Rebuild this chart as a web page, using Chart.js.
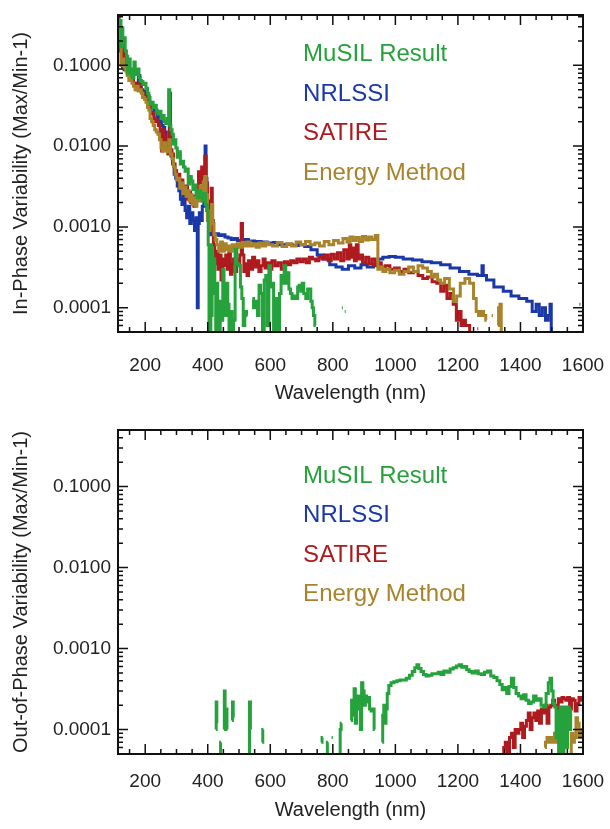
<!DOCTYPE html>
<html>
<head>
<meta charset="utf-8">
<title>Solar spectral variability</title>
<script src="https://cdn.jsdelivr.net/npm/chart.js@4.4.1/dist/chart.umd.min.js"></script>
<style>
  html, body { margin: 0; padding: 0; background: #fff; }
  #wrap { position: relative; width: 610px; height: 829px; }
  canvas { position: absolute; left: 0; }
</style>
</head>
<body>
<div id="wrap">
  <canvas id="inPhase" width="610" height="415" style="top:0"></canvas>
  <canvas id="outPhase" width="610" height="414" style="top:415px"></canvas>
</div>
<script>
// series names / colours / tick labels
const seriesNames = ['MuSIL Result', 'NRLSSI', 'SATIRE', 'Energy Method'];
const seriesColors = ['#25a23b', '#1a38a8', '#ae1a1e', '#a8832b'];
const xTickLabels = [200, 400, 600, 800, 1000, 1200, 1400, 1600];
const yTickLabels = [0.0001, 0.001, 0.01, 0.1];

// [wavelength nm, variability]; null = gap
const musilIn = [[113,0.40],[117,0.30],[121,0.36],[124,0.17],[127,0.29],[130,0.18],[134,0.22],[138,0.15],[142,0.13],[146,0.08],[150,0.12],[154,0.09],[158,0.075],[162,0.07],[166,0.11],[170,0.085],[174,0.077],[178,0.09],[182,0.07],[186,0.065],[190,0.063],[195,0.058],[200,0.06],[205,0.052],[210,0.045],[213,0.04],[218,0.033],[223,0.035],[228,0.03],[233,0.032],[238,0.027],[243,0.025],[248,0.027],[253,0.022],[258,0.024],[263,0.02],[268,0.019],[273,0.022],[277,0.05],[280,0.018],[284,0.016],[288,0.014],[292,0.0106],[296,0.012],[300,0.0095],[305,0.0073],[310,0.0085],[315,0.006],[320,0.0065],[325,0.0055],[330,0.0049],[335,0.0052],[340,0.0034],[345,0.0042],[350,0.0037],[355,0.0029],[360,0.0033],[365,0.0026],[370,0.0023],[375,0.0028],[380,0.0025],[385,0.0021],[390,0.0026],[395,0.0019],[400,0.0016],[403,0.0006],[405,0.00003],[407,0.0003],[409,0.00003],[411,0.0006],[413,0.00008],[415,0.00045],[418,0.00025],[421,0.0004],[424,0.00015],[427,0.00003],[430,0.0002],[434,0.00009],[438,0.00004],[442,0.00012],[446,0.00007],[450,0.0003],[454,0.00014],[458,0.00008],[462,0.0002],[466,0.00011],[470,0.00004],[475,0.00009],[480,0.00003],[485,0.00007],[490,0.00053],[496,0.00035],[502,0.00033],[507,0.00018],[511,0.00013],[516,0.00006],[521,0.00009],[527,0.00008],[532,null],[543,0.00013],[550,0.0001],[556,0.00012],[562,0.00008],[566,0.00019],[572,0.00015],[578,0.00003],[583,0.00022],[588,0.00025],[593,0.00006],[598,0.00033],[603,0.00018],[608,0.0002],[613,0.00004],[618,0.00012],[622,0.00013],[627,0.00003],[632,0.00015],[637,0.00025],[642,0.0002],[647,0.00033],[652,0.0002],[657,0.00027],[662,0.00017],[667,0.00015],[672,0.00013],[678,0.00014],[685,0.00013],[690,0.00018],[695,0.00019],[700,0.00016],[704,0.0002],[710,0.00015],[717,0.00013],[722,0.00017],[727,0.00017],[732,0.00012],[736,0.0001],[740,0.00008],[745,0.00006],[748,null],[829,0.0001],[832,0.0001],[834,null],[838,0.00009],[841,0.00009],[843,null],[1588,0.00011],[1592,0.00011]];

const nrlssiIn = [[113,0.38],[118,0.25],[122,0.15],[125,0.1],[130,0.095],[135,0.088],[140,0.09],[145,0.08],[150,0.075],[155,0.065],[160,0.07],[165,0.06],[170,0.058],[175,0.06],[181,0.075],[185,0.06],[190,0.05],[195,0.048],[200,0.045],[205,0.04],[210,0.042],[215,0.035],[220,0.033],[225,0.03],[230,0.027],[235,0.028],[240,0.024],[245,0.022],[250,0.02],[255,0.018],[260,0.017],[265,0.015],[270,0.012],[275,0.0095],[280,0.0085],[285,0.0075],[290,0.006],[295,0.0045],[300,0.004],[305,0.0032],[310,0.0028],[315,0.0022],[320,0.0019],[325,0.0025],[330,0.0016],[335,0.0013],[340,0.0018],[345,0.0011],[350,0.0015],[355,0.0012],[360,0.0009],[365,0.0013],[368,0.0001],[371,0.0011],[375,0.0015],[380,0.0012],[385,0.0018],[390,0.0022],[393,0.01],[396,0.004],[399,0.0016],[402,0.0021],[405,0.001],[410,0.0008],[415,0.0009],[420,0.0008],[430,0.00082],[440,0.00078],[450,0.0008],[460,0.00075],[470,0.00073],[480,0.0007],[490,0.00072],[500,0.00068],[520,0.0007],[540,0.00067],[560,0.00066],[580,0.00065],[600,0.00063],[620,0.00064],[640,0.0006],[660,0.00061],[680,0.00059],[700,0.0006],[720,0.00057],[740,0.00052],[760,0.00045],[780,0.0004],[800,0.00034],[820,0.00032],[840,0.0003],[860,0.00033],[880,0.00031],[900,0.00034],[920,0.00032],[940,0.00034],[950,0.0004],[970,0.00042],[990,0.00043],[1010,0.00042],[1040,0.0004],[1070,0.00039],[1100,0.00037],[1130,0.00036],[1160,0.00034],[1190,0.00031],[1220,0.00028],[1250,0.00026],[1275,0.00025],[1279,0.00033],[1283,0.00025],[1300,0.00022],[1330,0.00018],[1360,0.00016],[1380,0.00014],[1410,0.00013],[1430,0.00012],[1445,0.00009],[1455,0.00011],[1465,0.00008],[1475,0.0001],[1485,0.00007],[1492,0.00008],[1497,0.00011],[1500,0.00002]];

const satireIn = [[113,0.38],[118,0.28],[122,0.2],[126,0.12],[130,0.21],[134,0.13],[138,0.1],[142,0.09],[146,0.085],[150,0.08],[155,0.07],[160,0.065],[165,0.06],[170,0.055],[175,0.05],[180,0.06],[185,0.052],[190,0.047],[195,0.04],[200,0.042],[205,0.038],[210,0.032],[215,0.03],[220,0.026],[225,0.025],[230,0.022],[235,0.02],[240,0.021],[245,0.018],[250,0.015],[255,0.0087],[258,0.016],[262,0.014],[266,0.012],[270,0.01],[275,0.008],[279,0.045],[283,0.009],[288,0.008],[293,0.006],[298,0.005],[303,0.004],[308,0.0045],[313,0.0033],[318,0.0038],[323,0.003],[328,0.0026],[333,0.0032],[338,0.0022],[343,0.0027],[348,0.002],[353,0.0024],[358,0.0018],[363,0.0022],[368,0.003],[373,0.0048],[378,0.0035],[383,0.0055],[388,0.0042],[393,0.0075],[397,0.0035],[401,0.0013],[405,0.0009],[409,0.0014],[413,0.003],[416,0.0012],[420,0.0006],[425,0.00035],[430,0.0005],[435,0.0003],[440,0.00045],[445,0.00022],[450,0.0004],[455,0.00033],[460,0.00045],[465,0.0003],[470,0.00048],[475,0.00026],[480,0.00035],[485,0.0004],[490,0.00028],[495,0.0004],[500,0.00035],[505,0.00045],[509,0.0011],[513,0.00045],[518,0.00028],[523,0.00035],[528,0.00025],[533,0.00038],[540,0.0003],[547,0.00042],[553,0.00032],[560,0.00038],[567,0.00028],[574,0.00033],[580,0.0004],[587,0.00031],[594,0.00036],[600,0.0003],[610,0.00038],[620,0.00033],[630,0.00036],[640,0.0003],[650,0.00037],[660,0.00034],[670,0.00038],[680,0.00036],[690,0.0004],[700,0.00037],[710,0.0004],[720,0.00036],[730,0.00042],[740,0.0004],[750,0.00038],[760,0.00043],[770,0.0004],[780,0.00045],[790,0.00038],[800,0.00046],[810,0.0004],[820,0.00048],[830,0.00038],[840,0.00052],[850,0.0004],[855,0.0006],[860,0.00042],[866,0.00055],[872,0.00038],[878,0.0006],[884,0.0004],[890,0.00045],[900,0.00036],[910,0.00042],[920,0.00035],[930,0.0004],[940,0.00033],[950,0.00036],[960,0.00032],[975,0.00033],[990,0.0003],[1005,0.00031],[1020,0.00028],[1035,0.0003],[1050,0.00027],[1065,0.00028],[1080,0.00025],[1095,0.00023],[1110,0.00024],[1125,0.00021],[1140,0.0002],[1150,0.00016],[1160,0.00019],[1170,0.00013],[1180,0.00015],[1190,0.00011],[1200,0.00007],[1207,0.00009],[1213,0.00006],[1220,0.00007],[1228,0.00006],[1235,0.00006],[1240,0.00002],[1244,null],[1262,0.000055],[1265,0.000055]];

const energyIn = [[113,0.42],[117,0.3],[121,0.2],[125,0.1],[130,0.12],[135,0.095],[140,0.085],[145,0.075],[150,0.065],[155,0.07],[160,0.06],[165,0.055],[170,0.05],[175,0.055],[180,0.048],[185,0.05],[190,0.045],[195,0.04],[200,0.038],[205,0.035],[210,0.03],[213,0.028],[218,0.022],[223,0.02],[228,0.018],[233,0.016],[238,0.015],[243,0.014],[248,0.012],[253,0.0095],[258,0.0087],[263,0.011],[268,0.009],[273,0.0085],[278,0.012],[283,0.008],[288,0.007],[293,0.0055],[298,0.0045],[303,0.0038],[308,0.004],[313,0.003],[318,0.0035],[323,0.0026],[328,0.0031],[333,0.0024],[338,0.0028],[343,0.0021],[348,0.0025],[353,0.0019],[358,0.0023],[363,0.0018],[368,0.0026],[373,0.0021],[378,0.0032],[383,0.0025],[388,0.0036],[393,0.0042],[397,0.0025],[401,0.0012],[405,0.0009],[410,0.0016],[414,0.0019],[418,0.0011],[422,0.0008],[426,0.0007],[432,0.0006],[438,0.0005],[444,0.00065],[450,0.0005],[456,0.00062],[462,0.00052],[468,0.00058],[475,0.0005],[482,0.0006],[490,0.00055],[498,0.00062],[506,0.00056],[514,0.00064],[522,0.00058],[530,0.00065],[540,0.00058],[550,0.00062],[560,0.00056],[570,0.00063],[580,0.00058],[590,0.00064],[600,0.0006],[615,0.00058],[630,0.00064],[645,0.00057],[660,0.00062],[675,0.00058],[690,0.00065],[705,0.0006],[720,0.00066],[735,0.0006],[750,0.00063],[765,0.00058],[780,0.00066],[795,0.0006],[810,0.00068],[825,0.00063],[840,0.00072],[850,0.00065],[860,0.00075],[870,0.00068],[880,0.00074],[890,0.00066],[900,0.00076],[910,0.00069],[920,0.00075],[930,0.0007],[942,0.00078],[946,0.0003],[955,0.00032],[965,0.00028],[975,0.0003],[990,0.00027],[1005,0.00029],[1020,0.00026],[1035,0.00028],[1050,0.00032],[1065,0.00028],[1080,0.00033],[1095,0.00031],[1110,0.00028],[1120,0.00024],[1130,0.00026],[1140,0.00022],[1150,0.0002],[1165,0.00023],[1180,0.00017],[1192,0.00012],[1200,0.00014],[1215,0.0002],[1230,0.00023],[1245,0.0002],[1255,0.00013],[1262,0.00009],[1270,0.00008],[1278,0.00009],[1286,0.00008],[1292,0.00007],[1296,null],[1308,0.00008],[1312,0.00008],[1316,null],[1328,0.00006],[1332,0.0001],[1337,0.00011],[1340,0.00002]];

const musilOut = [[426,0.0001],[428,0.00022],[430,0.00012],[432,null],[440,0.00003],[442,0.00007],[444,null],[452,0.0001],[454,0.0003],[457,0.00011],[460,0.00018],[463,0.0001],[465,null],[478,0.00013],[480,0.00022],[483,0.00014],[485,null],[532,0.00003],[535,0.00022],[538,0.0001],[540,null],[574,0.00007],[578,0.0001],[580,null],[763,0.00007],[768,0.00008],[770,null],[781,0.00004],[784,0.00007],[786,null],[796,0.00008],[800,0.00008],[802,null],[822,0.00003],[825,0.0001],[828,0.00012],[830,null],[858,0.00013],[862,0.00023],[866,0.00015],[870,0.00032],[874,0.00012],[878,0.0002],[882,0.00026],[886,0.00018],[890,0.0001],[894,0.00038],[898,0.0003],[902,0.0002],[906,0.00026],[910,0.00022],[915,0.00025],[920,0.00018],[925,0.00017],[930,0.00018],[934,0.0001],[936,null],[958,0.00007],[961,0.00015],[965,0.0002],[968,0.00012],[972,0.00018],[976,0.00028],[982,0.00035],[990,0.00038],[1000,0.00039],[1010,0.0004],[1020,0.00041],[1030,0.00041],[1040,0.00043],[1050,0.00047],[1058,0.00052],[1066,0.00058],[1072,0.00063],[1078,0.00057],[1086,0.00052],[1094,0.00048],[1102,0.00046],[1112,0.00047],[1122,0.00049],[1132,0.00049],[1142,0.00051],[1150,0.00048],[1160,0.00053],[1170,0.00051],[1180,0.00056],[1190,0.00058],[1200,0.00061],[1208,0.00063],[1216,0.00059],[1224,0.0006],[1232,0.00055],[1240,0.00052],[1250,0.0005],[1260,0.00053],[1270,0.00049],[1280,0.00048],[1290,0.00051],[1300,0.00053],[1310,0.00046],[1320,0.00044],[1330,0.0004],[1338,0.00036],[1345,0.00031],[1352,0.00033],[1360,0.00028],[1367,0.00034],[1375,0.00043],[1382,0.00033],[1390,0.00028],[1398,0.00026],[1406,0.00024],[1414,0.00027],[1422,0.00023],[1430,0.00021],[1438,0.00022],[1446,0.00026],[1454,0.00023],[1462,0.00024],[1470,0.0002],[1478,0.00019],[1486,0.00028],[1492,0.00038],[1497,0.00043],[1502,0.0003],[1507,0.00021],[1512,0.00019],[1516,0.00008],[1520,0.00017],[1524,0.00004],[1530,0.00019],[1536,0.00003],[1542,0.00019],[1548,0.00006],[1553,0.00019],[1558,0.0001],[1563,0.00018],[1567,null]];

const nrlssiOut = [];

const satireOut = [[1345,0.00002],[1348,0.00006],[1355,0.00007],[1362,0.00005],[1368,0.00008],[1375,0.00009],[1380,0.00006],[1386,0.0001],[1392,0.00009],[1398,0.0001],[1404,0.00012],[1410,0.00008],[1416,0.00011],[1422,0.00013],[1428,0.00016],[1434,0.0001],[1440,0.00014],[1446,0.00016],[1452,0.00013],[1458,0.00017],[1464,0.00012],[1470,0.00018],[1476,0.00016],[1482,0.0002],[1488,0.00012],[1494,0.00019],[1500,0.0002],[1506,0.00023],[1512,0.0002],[1518,0.00018],[1524,0.00024],[1530,0.00022],[1536,0.00025],[1542,0.00024],[1548,0.00023],[1554,0.00025],[1560,0.00018],[1566,0.00024],[1572,0.00023],[1578,0.00017],[1584,0.00021],[1590,0.00025],[1596,0.00023],[1600,0.00024]];

const energyOut = [[1388,0.00005],[1392,0.00005],[1394,null],[1478,0.00006],[1482,0.00007],[1488,0.00008],[1494,0.00007],[1500,0.00008],[1506,0.00007],[1512,0.00009],[1518,0.00007],[1524,0.0001],[1528,0.00006],[1532,0.00002],[1536,null],[1560,0.00005],[1565,0.00009],[1570,0.00007],[1575,0.00008],[1580,0.00014],[1585,0.00012],[1590,0.00008],[1596,0.0001],[1600,0.00009]];

// draws the box, inward ticks on all sides, and the coloured legend text
const frameTicks = {
  id: 'frameTicks',
  afterDatasetsDraw(chart) {
    const ctx = chart.ctx;
    const a = chart.chartArea;
    const x = chart.scales.x, y = chart.scales.y;
    ctx.save();
    ctx.strokeStyle = '#111';
    ctx.lineWidth = 1.5;
    ctx.beginPath();
    for (let w = 150; w <= 1600; w += 50) {
      const px = x.getPixelForValue(w);
      const len = w % 200 === 0 ? 10 : 5;
      ctx.moveTo(px, a.bottom); ctx.lineTo(px, a.bottom - len);
      ctx.moveTo(px, a.top); ctx.lineTo(px, a.top + len);
    }
    for (let e = -5; e <= 0; e++) {
      for (let m = 1; m <= 9; m++) {
        const v = m * Math.pow(10, e);
        if (v < y.min || v > y.max) continue;
        const py = y.getPixelForValue(v);
        const len = m === 1 ? 10 : 5;
        ctx.moveTo(a.left, py); ctx.lineTo(a.left + len, py);
        ctx.moveTo(a.right, py); ctx.lineTo(a.right - len, py);
      }
    }
    ctx.stroke();
    ctx.lineWidth = 2;
    ctx.strokeRect(a.left, a.top, a.right - a.left, a.bottom - a.top);

    // legend, anchored in data space
    ctx.font = '24px "Liberation Sans", Arial, sans-serif';
    ctx.textBaseline = 'middle';
    ctx.textAlign = 'left';
    const lx = x.getPixelForValue(705);
    const ly = y.getPixelForValue(0.135);
    seriesNames.forEach((name, i) => {
      ctx.fillStyle = seriesColors[i];
      ctx.fillText(name, lx, ly + i * 39.5);
    });
    ctx.restore();
  }
};

function toPoints(pairs) {
  return pairs.map(p => ({ x: p[0], y: p[1] }));
}

function makeDatasets(musil, nrlssi, satire, energy) {
  const src = [musil, nrlssi, satire, energy];
  // MuSIL drawn on top, then Energy, SATIRE, NRLSSI underneath
  const order = [0, 3, 2, 1];
  return src.map((d, i) => ({
    label: seriesNames[i],
    data: toPoints(d),
    borderColor: seriesColors[i],
    borderWidth: 3,
    pointRadius: 0,
    stepped: 'middle',
    spanGaps: false,
    fill: false,
    order: order[i],
    clip: 0
  }));
}

function makeChart(id, yTitle, yMax, xAxisHeight, tickPad, titlePad, datasets) {
  const tickFont = { family: '"Liberation Sans", Arial, sans-serif', size: 19 };
  const titleFont = { family: '"Liberation Sans", Arial, sans-serif', size: 20 };
  return new Chart(document.getElementById(id), {
    type: 'line',
    data: { datasets: datasets },
    options: {
      responsive: false,
      animation: false,
      devicePixelRatio: 1,
      layout: { padding: { top: 15, right: 27, left: 0, bottom: 0 } },
      plugins: { legend: { display: false }, tooltip: { enabled: false } },
      scales: {
        x: {
          type: 'linear',
          min: 113,
          max: 1600,
          grid: { display: false, drawTicks: false },
          border: { display: false },
          afterBuildTicks: s => { s.ticks = xTickLabels.map(v => ({ value: v })); },
          afterFit: s => { s.height = xAxisHeight; s.paddingLeft = 0; s.paddingRight = 0; },
          ticks: { color: '#222', font: tickFont, padding: tickPad, maxRotation: 0, autoSkip: false,
                   callback: v => String(v) },
          title: { display: true, text: 'Wavelength (nm)', color: '#222', font: titleFont,
                   padding: { top: 0, bottom: titlePad } }
        },
        y: {
          type: 'logarithmic',
          min: 0.00005,
          max: yMax,
          grid: { display: false, drawTicks: false },
          border: { display: false },
          afterBuildTicks: s => { s.ticks = yTickLabels.map(v => ({ value: v })); },
          afterFit: s => { s.width = 118; s.paddingTop = 0; s.paddingBottom = 0; },
          ticks: { color: '#222', font: tickFont, padding: 7, autoSkip: false,
                   callback: v => Number(v).toFixed(4) },
          title: { display: true, text: yTitle, color: '#222', font: titleFont,
                   padding: { top: 9, bottom: 0 } }
        }
      }
    },
    plugins: [frameTicks]
  });
}

makeChart('inPhase', 'In-Phase Variability (Max/Min-1)', 0.42, 83, 22, 10,
  makeDatasets(musilIn, nrlssiIn, satireIn, energyIn));
makeChart('outPhase', 'Out-of-Phase Variability (Max/Min-1)', 0.5, 75, 16, 7,
  makeDatasets(musilOut, nrlssiOut, satireOut, energyOut));
</script>
</body>
</html>
